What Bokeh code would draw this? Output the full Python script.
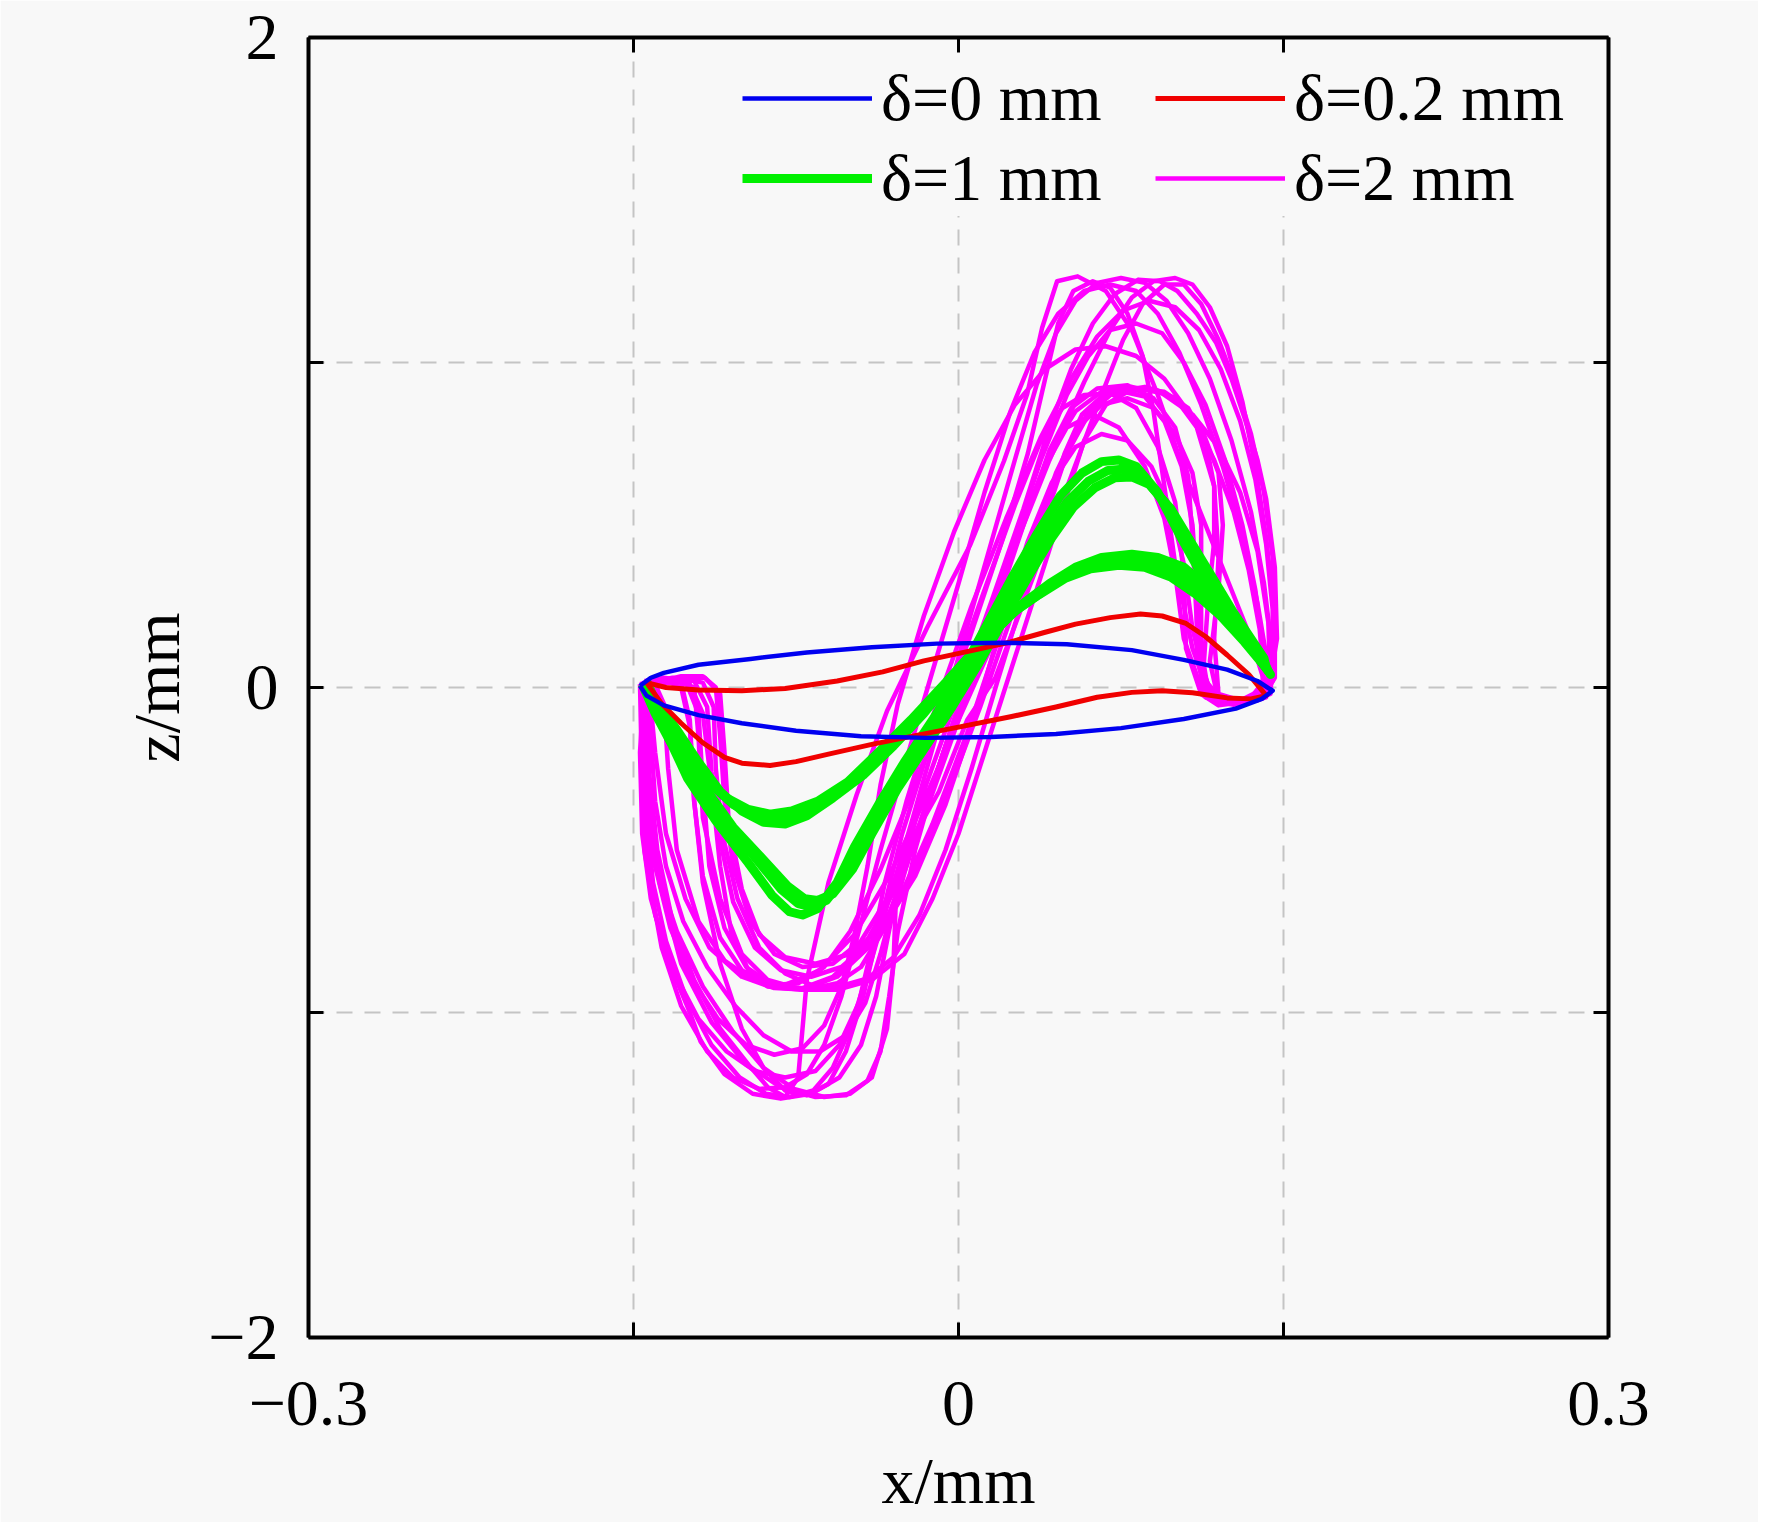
from bokeh.plotting import figure
from bokeh.models import Legend, LegendItem, FixedTicker, LinearAxis
from bokeh.embed import file_html
from bokeh.resources import INLINE

# ---- data (x/mm, z/mm) ----
x_ticks = [-0.3, -0.15, 0, 0.15, 0.3]
y_ticks = [-2, -1, 0, 1, 2]
x_tick_labels = {-0.3: "\u22120.3", -0.15: "", 0: "0", 0.15: "", 0.3: "0.3"}
y_tick_labels = {-2: "\u22122", -1: "", 0: "0", 1: "", 2: "2"}
blank_x = {t: "" for t in x_ticks}
blank_y = {t: "" for t in y_ticks}

labels = ["\u03b4=0 mm", "\u03b4=0.2 mm", "\u03b4=1 mm", "\u03b4=2 mm"]

# delta = 0 mm
blue_pts = [(-0.147, 0.005), (-0.142, 0.03), (-0.136, 0.045), (-0.12, 0.07), (-0.096, 0.088),
            (-0.07, 0.108), (-0.04, 0.124), (-0.01, 0.135), (0.02, 0.138), (0.05, 0.133),
            (0.08, 0.115), (0.104, 0.085), (0.124, 0.055), (0.138, 0.02), (0.145, -0.01),
            (0.14, -0.035), (0.128, -0.065), (0.104, -0.097), (0.075, -0.125), (0.045, -0.143),
            (0.015, -0.152), (-0.015, -0.155), (-0.045, -0.15), (-0.075, -0.133), (-0.1, -0.11),
            (-0.12, -0.085), (-0.136, -0.055), (-0.144, -0.025), (-0.147, 0.005)]

# delta = 0.2 mm
red_pts = [(-0.144, 0.015), (-0.135, 0.0), (-0.12, -0.008), (-0.1, -0.01), (-0.08, -0.003),
           (-0.056, 0.02), (-0.035, 0.048), (-0.016, 0.082), (0.005, 0.112), (0.024, 0.14),
           (0.04, 0.17), (0.054, 0.195), (0.07, 0.215), (0.084, 0.226), (0.094, 0.22),
           (0.105, 0.197), (0.114, 0.157), (0.124, 0.1), (0.134, 0.04), (0.142, -0.025),
           (0.135, -0.035), (0.124, -0.032), (0.108, -0.016), (0.094, -0.01), (0.08, -0.015),
           (0.064, -0.03), (0.045, -0.06), (0.024, -0.09), (0.0, -0.122), (-0.02, -0.148),
           (-0.04, -0.175), (-0.06, -0.205), (-0.075, -0.228), (-0.087, -0.24), (-0.1, -0.233),
           (-0.108, -0.215), (-0.118, -0.17), (-0.128, -0.11), (-0.137, -0.05), (-0.144, 0.015)]

# delta = 1 mm (several nearly overlapping cycles)
green_1 = [(-0.146, 0.01), (-0.14, -0.08), (-0.132, -0.18), (-0.125, -0.28), (-0.112, -0.41),
           (-0.097, -0.54), (-0.086, -0.64), (-0.078, -0.69), (-0.072, -0.7), (-0.065, -0.68),
           (-0.056, -0.6), (-0.048, -0.49), (-0.036, -0.35), (-0.025, -0.23), (-0.012, -0.1),
           (0.0, 0.03), (0.012, 0.18), (0.024, 0.33), (0.036, 0.47), (0.047, 0.59), (0.057, 0.66),
           (0.066, 0.695), (0.074, 0.7), (0.082, 0.68), (0.092, 0.6), (0.102, 0.47), (0.112, 0.35),
           (0.122, 0.25), (0.132, 0.16), (0.14, 0.08), (0.144, 0.04), (0.136, 0.12), (0.126, 0.22),
           (0.116, 0.3), (0.104, 0.37), (0.092, 0.4), (0.08, 0.41), (0.066, 0.4), (0.054, 0.37),
           (0.042, 0.32), (0.03, 0.26), (0.016, 0.17), (0.0, 0.05), (-0.016, -0.08), (-0.03, -0.18),
           (-0.044, -0.27), (-0.058, -0.34), (-0.07, -0.395), (-0.08, -0.42), (-0.09, -0.415),
           (-0.1, -0.38), (-0.11, -0.32), (-0.12, -0.23), (-0.13, -0.13), (-0.14, -0.04), (-0.146, 0.01)]
green_2 = [(-0.145, 0.015), (-0.138, -0.09), (-0.129, -0.2), (-0.12, -0.3), (-0.107, -0.42),
           (-0.093, -0.53), (-0.082, -0.62), (-0.074, -0.665), (-0.068, -0.675), (-0.061, -0.655),
           (-0.052, -0.58), (-0.043, -0.47), (-0.031, -0.33), (-0.02, -0.21), (-0.007, -0.08),
           (0.005, 0.05), (0.017, 0.2), (0.029, 0.34), (0.04, 0.47), (0.05, 0.57), (0.06, 0.635),
           (0.069, 0.668), (0.077, 0.672), (0.085, 0.65), (0.095, 0.57), (0.105, 0.45), (0.115, 0.34),
           (0.125, 0.24), (0.134, 0.15), (0.141, 0.08), (0.143, 0.05), (0.134, 0.13), (0.124, 0.21),
           (0.113, 0.29), (0.101, 0.355), (0.089, 0.385), (0.077, 0.392), (0.064, 0.38), (0.052, 0.35),
           (0.04, 0.3), (0.027, 0.24), (0.013, 0.15), (-0.003, 0.03), (-0.019, -0.09), (-0.034, -0.19),
           (-0.048, -0.28), (-0.062, -0.345), (-0.074, -0.39), (-0.084, -0.405), (-0.094, -0.395),
           (-0.104, -0.36), (-0.114, -0.3), (-0.124, -0.21), (-0.134, -0.12), (-0.142, -0.03), (-0.145, 0.015)]
green_3 = [(-0.144, 0.02), (-0.136, -0.1), (-0.127, -0.21), (-0.117, -0.31), (-0.104, -0.43),
           (-0.09, -0.53), (-0.079, -0.61), (-0.071, -0.65), (-0.065, -0.655), (-0.058, -0.635),
           (-0.049, -0.56), (-0.04, -0.45), (-0.028, -0.31), (-0.016, -0.19), (-0.003, -0.06),
           (0.009, 0.07), (0.021, 0.21), (0.033, 0.35), (0.043, 0.46), (0.053, 0.555), (0.063, 0.615),
           (0.072, 0.645), (0.08, 0.648), (0.088, 0.625), (0.098, 0.55), (0.108, 0.44), (0.118, 0.33),
           (0.127, 0.23), (0.135, 0.15), (0.141, 0.09), (0.142, 0.06), (0.132, 0.14), (0.121, 0.22),
           (0.11, 0.285), (0.098, 0.34), (0.086, 0.37), (0.074, 0.376), (0.061, 0.365), (0.049, 0.335),
           (0.037, 0.285), (0.024, 0.225), (0.01, 0.135), (-0.006, 0.015), (-0.022, -0.1), (-0.037, -0.2),
           (-0.051, -0.29), (-0.065, -0.35), (-0.077, -0.38), (-0.087, -0.39), (-0.097, -0.375),
           (-0.107, -0.34), (-0.117, -0.28), (-0.127, -0.2), (-0.136, -0.11), (-0.142, -0.02), (-0.144, 0.02)]

# delta = 2 mm (many wandering cycles)
mag_1 = [(-0.146, 0.0), (-0.146, -0.2), (-0.144, -0.4), (-0.141, -0.6), (-0.135, -0.78),
         (-0.126, -0.95), (-0.114, -1.1), (-0.101, -1.2), (-0.089, -1.25), (-0.078, -1.26),
         (-0.067, -1.24), (-0.058, -1.17), (-0.05, -1.05), (-0.042, -0.88), (-0.032, -0.65),
         (-0.021, -0.4), (-0.01, -0.14), (0.002, 0.14), (0.014, 0.42), (0.026, 0.7), (0.036, 0.93),
         (0.045, 1.09), (0.054, 1.19), (0.064, 1.245), (0.075, 1.26), (0.086, 1.245), (0.096, 1.19),
         (0.106, 1.09), (0.116, 0.95), (0.126, 0.76), (0.135, 0.54), (0.141, 0.32), (0.145, 0.1),
         (0.144, -0.02), (0.136, -0.04), (0.124, -0.05), (0.114, -0.03), (0.11, 0.1), (0.11, 0.3),
         (0.108, 0.5), (0.103, 0.68), (0.095, 0.82), (0.086, 0.895), (0.076, 0.91), (0.066, 0.895),
         (0.057, 0.84), (0.049, 0.72), (0.04, 0.52), (0.03, 0.28), (0.018, 0.02), (0.006, -0.25),
         (-0.006, -0.5), (-0.018, -0.7), (-0.03, -0.83), (-0.042, -0.895), (-0.055, -0.92),
         (-0.068, -0.915), (-0.08, -0.88), (-0.092, -0.8), (-0.102, -0.65), (-0.109, -0.45),
         (-0.112, -0.25), (-0.113, -0.06), (-0.118, 0.015), (-0.126, 0.025), (-0.135, 0.015), (-0.146, 0.0)]
mag_2 = [(-0.145, 0.02), (-0.147, -0.2), (-0.146, -0.45), (-0.142, -0.65), (-0.134, -0.84),
         (-0.124, -1.0), (-0.119, -1.09), (-0.108, -1.19), (-0.095, -1.25), (-0.082, -1.265),
         (-0.068, -1.25), (-0.055, -1.2), (-0.045, -1.1), (-0.038, -0.95), (-0.033, -0.78),
         (-0.026, -0.55), (-0.015, -0.3), (0.0, -0.02), (0.016, 0.28), (0.03, 0.55), (0.042, 0.8),
         (0.052, 0.98), (0.062, 1.12), (0.072, 1.21), (0.083, 1.255), (0.093, 1.25), (0.101, 1.22),
         (0.11, 1.15), (0.119, 1.06), (0.126, 0.95), (0.132, 0.83), (0.138, 0.7), (0.142, 0.58),
         (0.146, 0.37), (0.147, 0.15), (0.143, -0.01), (0.132, -0.045), (0.12, -0.055), (0.112, -0.02),
         (0.105, 0.12), (0.104, 0.35), (0.1, 0.57), (0.092, 0.74), (0.082, 0.86), (0.07, 0.905),
         (0.058, 0.9), (0.048, 0.86), (0.038, 0.76), (0.026, 0.56), (0.012, 0.3), (-0.004, 0.0),
         (-0.02, -0.3), (-0.036, -0.56), (-0.05, -0.75), (-0.062, -0.86), (-0.074, -0.91),
         (-0.086, -0.915), (-0.097, -0.87), (-0.105, -0.75), (-0.11, -0.55), (-0.114, -0.3),
         (-0.118, -0.08), (-0.124, 0.01), (-0.133, 0.025), (-0.145, 0.02)]
mag_3 = [(-0.144, 0.0), (-0.143, -0.25), (-0.139, -0.5), (-0.132, -0.72), (-0.122, -0.9),
         (-0.11, -1.05), (-0.097, -1.16), (-0.088, -1.23), (-0.08, -1.26), (-0.074, -1.2),
         (-0.07, -0.9), (-0.06, -0.6), (-0.047, -0.33), (-0.033, -0.072), (-0.0145, 0.184),
         (0.0055, 0.44), (0.021, 0.697), (0.0317, 0.903), (0.0386, 1.107), (0.0455, 1.25),
         (0.055, 1.265), (0.068, 1.22), (0.08, 1.1), (0.092, 0.9), (0.105, 0.65), (0.12, 0.4),
         (0.135, 0.15), (0.142, 0.0), (0.13, -0.04), (0.12, -0.02), (0.118, 0.15), (0.12, 0.4),
         (0.118, 0.62), (0.11, 0.8), (0.1, 0.89), (0.09, 0.92), (0.078, 0.91), (0.068, 0.87),
         (0.058, 0.76), (0.048, 0.55), (0.036, 0.3), (0.024, 0.05), (0.012, -0.2), (0.0, -0.45),
         (-0.012, -0.65), (-0.025, -0.82), (-0.04, -0.9), (-0.056, -0.93), (-0.072, -0.93),
         (-0.088, -0.9), (-0.1, -0.82), (-0.11, -0.65), (-0.118, -0.4), (-0.12, -0.15),
         (-0.122, 0.0), (-0.13, 0.02), (-0.144, 0.0)]
mag_4 = [(-0.143, 0.01), (-0.14, -0.2), (-0.135, -0.45), (-0.126, -0.65), (-0.115, -0.8),
         (-0.1, -0.89), (-0.085, -0.925), (-0.07, -0.93), (-0.056, -0.91), (-0.045, -0.86),
         (-0.035, -0.75), (-0.024, -0.55), (-0.012, -0.3), (0.002, -0.02), (0.016, 0.26),
         (0.03, 0.52), (0.042, 0.72), (0.054, 0.85), (0.066, 0.91), (0.08, 0.925), (0.094, 0.905),
         (0.108, 0.84), (0.12, 0.74), (0.13, 0.6), (0.138, 0.42), (0.143, 0.2), (0.144, 0.0),
         (0.138, -0.04), (0.126, -0.05), (0.116, -0.03), (0.108, 0.12), (0.1, 0.38), (0.095, 0.62),
         (0.09, 0.85), (0.085, 1.02), (0.078, 1.15), (0.07, 1.23), (0.062, 1.25), (0.053, 1.22),
         (0.046, 1.12), (0.04, 0.95), (0.032, 0.72), (0.02, 0.45), (0.005, 0.15), (-0.012, -0.15),
         (-0.026, -0.45), (-0.036, -0.72), (-0.044, -0.95), (-0.052, -1.12), (-0.06, -1.22),
         (-0.07, -1.255), (-0.08, -1.24), (-0.09, -1.17), (-0.1, -1.05), (-0.11, -0.85),
         (-0.118, -0.6), (-0.122, -0.35), (-0.124, -0.1), (-0.128, 0.015), (-0.136, 0.025), (-0.143, 0.01)]
mag_5 = [(-0.146, 0.0), (-0.145, -0.3), (-0.14, -0.55), (-0.13, -0.75), (-0.118, -0.92),
         (-0.104, -1.06), (-0.09, -1.17), (-0.076, -1.235), (-0.062, -1.26), (-0.05, -1.25),
         (-0.04, -1.2), (-0.033, -1.05), (-0.03, -0.85), (-0.029, -0.67), (-0.02, -0.45),
         (-0.009, -0.32), (0.004, -0.1), (0.017, 0.03), (0.035, 0.35), (0.052, 0.65), (0.066, 0.9),
         (0.076, 1.07), (0.085, 1.18), (0.095, 1.24), (0.104, 1.24), (0.112, 1.18), (0.12, 1.07),
         (0.128, 0.93), (0.135, 0.78), (0.141, 0.6), (0.145, 0.4), (0.146, 0.2), (0.145, 0.02),
         (0.14, -0.03), (0.128, -0.055), (0.118, -0.04), (0.113, 0.05), (0.115, 0.25), (0.118, 0.45),
         (0.118, 0.62), (0.114, 0.76), (0.106, 0.86), (0.095, 0.91), (0.082, 0.92), (0.07, 0.9),
         (0.06, 0.84), (0.05, 0.72), (0.038, 0.5), (0.02, 0.2), (0.0, -0.1), (-0.016, -0.35),
         (-0.032, -0.58), (-0.048, -0.76), (-0.064, -0.87), (-0.08, -0.915), (-0.095, -0.9),
         (-0.108, -0.84), (-0.12, -0.72), (-0.13, -0.5), (-0.134, -0.25), (-0.136, -0.05),
         (-0.14, 0.01), (-0.146, 0.0)]
mag_6 = [(-0.14, 0.015), (-0.142, -0.15), (-0.14, -0.35), (-0.135, -0.55), (-0.127, -0.72),
         (-0.116, -0.86), (-0.103, -0.98), (-0.09, -1.07), (-0.077, -1.12), (-0.064, -1.12),
         (-0.052, -1.07), (-0.043, -0.97), (-0.036, -0.82), (-0.028, -0.62), (-0.016, -0.38),
         (-0.002, -0.1), (0.012, 0.18), (0.026, 0.46), (0.038, 0.7), (0.05, 0.9), (0.06, 1.02),
         (0.07, 1.1), (0.082, 1.12), (0.094, 1.09), (0.104, 1.0), (0.114, 0.87), (0.123, 0.7),
         (0.131, 0.5), (0.137, 0.3), (0.141, 0.1), (0.14, -0.02), (0.13, -0.05), (0.12, -0.045),
         (0.112, 0.0), (0.104, 0.15), (0.1, 0.35), (0.095, 0.52), (0.086, 0.68), (0.074, 0.8),
         (0.062, 0.84), (0.05, 0.8), (0.04, 0.68), (0.028, 0.47), (0.014, 0.2), (-0.002, -0.12),
         (-0.018, -0.42), (-0.032, -0.64), (-0.045, -0.78), (-0.058, -0.85), (-0.072, -0.86),
         (-0.085, -0.82), (-0.096, -0.72), (-0.104, -0.55), (-0.108, -0.35), (-0.11, -0.15),
         (-0.112, 0.0), (-0.118, 0.035), (-0.128, 0.035), (-0.14, 0.015)]
mag_7 = [(-0.147, 0.01), (-0.146, -0.3), (-0.143, -0.58), (-0.137, -0.8), (-0.128, -0.98),
         (-0.116, -1.12), (-0.104, -1.2), (-0.092, -1.235), (-0.08, -1.23), (-0.07, -1.19),
         (-0.062, -1.1), (-0.054, -0.95), (-0.046, -0.75), (-0.036, -0.5), (-0.024, -0.22),
         (-0.012, 0.05), (0.0, 0.32), (0.012, 0.6), (0.024, 0.85), (0.035, 1.03), (0.046, 1.15),
         (0.058, 1.22), (0.07, 1.24), (0.082, 1.22), (0.092, 1.15), (0.102, 1.03), (0.112, 0.87),
         (0.122, 0.68), (0.131, 0.47), (0.138, 0.26), (0.143, 0.06), (0.142, -0.03), (0.132, -0.05),
         (0.122, -0.05), (0.115, 0.0), (0.11, 0.2), (0.108, 0.45), (0.106, 0.65), (0.1, 0.8),
         (0.09, 0.89), (0.078, 0.93), (0.064, 0.92), (0.052, 0.86), (0.042, 0.73), (0.03, 0.5),
         (0.016, 0.22), (0.0, -0.1), (-0.016, -0.4), (-0.03, -0.63), (-0.044, -0.8), (-0.058, -0.89),
         (-0.072, -0.925), (-0.086, -0.915), (-0.098, -0.86), (-0.108, -0.74), (-0.115, -0.55),
         (-0.118, -0.3), (-0.12, -0.08), (-0.126, 0.02), (-0.136, 0.03), (-0.147, 0.01)]
mag_8 = [(-0.145, 0.01), (-0.146, -0.25), (-0.145, -0.5), (-0.14, -0.7), (-0.131, -0.88),
         (-0.12, -1.02), (-0.107, -1.12), (-0.094, -1.18), (-0.08, -1.2), (-0.066, -1.18),
         (-0.055, -1.1), (-0.046, -0.97), (-0.04, -0.8), (-0.034, -0.6), (-0.024, -0.35),
         (-0.01, -0.05), (0.006, 0.25), (0.022, 0.52), (0.038, 0.77), (0.052, 0.95), (0.064, 1.08),
         (0.076, 1.16), (0.088, 1.19), (0.1, 1.17), (0.111, 1.1), (0.121, 0.98), (0.13, 0.82),
         (0.137, 0.64), (0.142, 0.44), (0.145, 0.24), (0.145, 0.04), (0.138, -0.03), (0.127, -0.045),
         (0.118, -0.035), (0.112, 0.06), (0.112, 0.28), (0.112, 0.5), (0.108, 0.66), (0.1, 0.78),
         (0.09, 0.86), (0.078, 0.89), (0.066, 0.87), (0.055, 0.8), (0.045, 0.66), (0.034, 0.45),
         (0.02, 0.18), (0.004, -0.14), (-0.012, -0.42), (-0.026, -0.63), (-0.04, -0.78),
         (-0.054, -0.86), (-0.068, -0.89), (-0.082, -0.87), (-0.094, -0.8), (-0.104, -0.66),
         (-0.11, -0.47), (-0.114, -0.26), (-0.116, -0.06), (-0.122, 0.02), (-0.132, 0.03), (-0.145, 0.01)]
mag_9 = [(-0.146, 0.0), (-0.144, -0.3), (-0.14, -0.55), (-0.133, -0.74), (-0.123, -0.9),
         (-0.111, -1.02), (-0.098, -1.1), (-0.085, -1.13), (-0.072, -1.11), (-0.062, -1.04),
         (-0.054, -0.92), (-0.048, -0.76), (-0.042, -0.55), (-0.036, -0.3), (-0.028, -0.05),
         (-0.016, 0.22), (-0.002, 0.48), (0.012, 0.7), (0.026, 0.87), (0.04, 0.98), (0.054, 1.04),
         (0.068, 1.05), (0.082, 1.02), (0.095, 0.95), (0.107, 0.84), (0.118, 0.7), (0.127, 0.54),
         (0.134, 0.36), (0.139, 0.18), (0.141, 0.02), (0.134, -0.04), (0.122, -0.04), (0.114, 0.02),
         (0.108, 0.18), (0.104, 0.38), (0.098, 0.55), (0.089, 0.68), (0.078, 0.76), (0.066, 0.78),
         (0.054, 0.74), (0.043, 0.63), (0.032, 0.45), (0.02, 0.2), (0.008, -0.08), (-0.006, -0.36),
         (-0.02, -0.58), (-0.034, -0.73), (-0.05, -0.82), (-0.066, -0.85), (-0.08, -0.83),
         (-0.092, -0.76), (-0.1, -0.62), (-0.106, -0.42), (-0.108, -0.2), (-0.11, -0.02),
         (-0.117, 0.03), (-0.128, 0.03), (-0.146, 0.0)]
mag_10 = [(-0.143, 0.015), (-0.143, -0.3), (-0.138, -0.6), (-0.128, -0.85), (-0.114, -1.03),
          (-0.098, -1.16), (-0.082, -1.23), (-0.066, -1.26), (-0.052, -1.255), (-0.042, -1.21),
          (-0.036, -1.12), (-0.032, -0.95), (-0.028, -0.75), (-0.02, -0.5), (-0.008, -0.22),
          (0.008, 0.1), (0.024, 0.4), (0.042, 0.7), (0.058, 0.94), (0.07, 1.1), (0.08, 1.2),
          (0.09, 1.25), (0.1, 1.26), (0.108, 1.24), (0.116, 1.17), (0.124, 1.05), (0.131, 0.88),
          (0.137, 0.68), (0.142, 0.46), (0.146, 0.22), (0.146, 0.03), (0.14, -0.035), (0.128, -0.05),
          (0.12, -0.04), (0.116, 0.08), (0.12, 0.3), (0.122, 0.5), (0.12, 0.66), (0.112, 0.8),
          (0.1, 0.89), (0.086, 0.925), (0.072, 0.91), (0.06, 0.85), (0.05, 0.72), (0.04, 0.52),
          (0.026, 0.25), (0.01, -0.06), (-0.008, -0.38), (-0.024, -0.62), (-0.04, -0.79),
          (-0.056, -0.89), (-0.072, -0.93), (-0.088, -0.92), (-0.1, -0.87), (-0.11, -0.77),
          (-0.118, -0.58), (-0.122, -0.35), (-0.124, -0.12), (-0.128, 0.0), (-0.135, 0.02), (-0.143, 0.015)]

green_cycles = [green_1, green_2, green_3]
mag_cycles = [mag_1, mag_2, mag_3, mag_4, mag_5, mag_6, mag_7, mag_8, mag_9, mag_10]


def split(pts):
    return [p[0] for p in pts], [p[1] for p in pts]


FONT = "Liberation Serif"
BG = "#f8f8f8"

p = figure(frame_width=1300, frame_height=1300, x_range=(-0.3, 0.3), y_range=(-2, 2),
           output_backend="svg", toolbar_location=None,
           min_border_left=308, min_border_top=37, min_border_right=150, min_border_bottom=185)
p.background_fill_color = BG
p.border_fill_color = BG
p.outline_line_color = None

# magenta drawn first, blue on top
mag_xs = [split(c)[0] for c in mag_cycles]
mag_ys = [split(c)[1] for c in mag_cycles]
r_mag = p.multi_line(mag_xs, mag_ys, line_color="#ff00ff", line_width=4.5, line_join="round")

green_xs = [split(c)[0] for c in green_cycles]
green_ys = [split(c)[1] for c in green_cycles]
r_green = p.multi_line(green_xs, green_ys, line_color="#00f000", line_width=9, line_join="round")

rx, ry = split(red_pts)
r_red = p.line(rx, ry, line_color="#f00000", line_width=5, line_join="round")

bx, by = split(blue_pts)
r_blue = p.line(bx, by, line_color="#0000f0", line_width=4.5, line_join="round")

# axes on all four sides, ticks pointing in
xb = p.below[0]
yl = p.left[0]
xb.ticker = FixedTicker(ticks=x_ticks)
yl.ticker = FixedTicker(ticks=y_ticks)
xb.major_label_overrides = x_tick_labels
yl.major_label_overrides = y_tick_labels
xt = LinearAxis(ticker=FixedTicker(ticks=x_ticks), major_label_overrides=blank_x)
yr = LinearAxis(ticker=FixedTicker(ticks=y_ticks), major_label_overrides=blank_y)
p.add_layout(xt, "above")
p.add_layout(yr, "right")

for ax in (xb, yl, xt, yr):
    ax.axis_line_width = 4
    ax.axis_line_color = "black"
    ax.major_tick_in = 15
    ax.major_tick_out = 0
    ax.major_tick_line_width = 3
    ax.minor_tick_line_color = None
    ax.major_label_text_font = FONT
    ax.major_label_text_font_size = "66px"
    ax.major_label_text_color = "black"
xb.major_label_standoff = 44
yl.major_label_standoff = 30

xb.axis_label = "x/mm"
yl.axis_label = "z/mm"
for ax in (xb, yl):
    ax.axis_label_text_font = FONT
    ax.axis_label_text_font_size = "66px"
    ax.axis_label_text_font_style = "normal"
    ax.axis_label_text_color = "black"
xb.axis_label_standoff = 16
yl.axis_label_standoff = 12

p.xgrid.ticker = FixedTicker(ticks=x_ticks)
p.ygrid.ticker = FixedTicker(ticks=y_ticks)
for g in (p.xgrid, p.ygrid):
    g.grid_line_color = "#c4c4c4"
    g.grid_line_width = 2
    g.grid_line_dash = "16 12"

legend = Legend(items=[LegendItem(label=labels[0], renderers=[r_blue]),
                       LegendItem(label=labels[2], renderers=[r_green]),
                       LegendItem(label=labels[1], renderers=[r_red]),
                       LegendItem(label=labels[3], renderers=[r_mag])],
                ncols=2, location=(434, 1121))
legend.label_text_font = FONT
legend.label_text_font_size = "66px"
legend.label_text_color = "black"
legend.glyph_width = 130
legend.glyph_height = 40
legend.label_standoff = 9
legend.label_width = 270
legend.spacing = 4
legend.padding = 0
legend.margin = 0
legend.border_line_color = None
legend.background_fill_color = BG
legend.background_fill_alpha = 1.0
p.add_layout(legend)

open("out.html", "w").write(file_html(p, INLINE))
